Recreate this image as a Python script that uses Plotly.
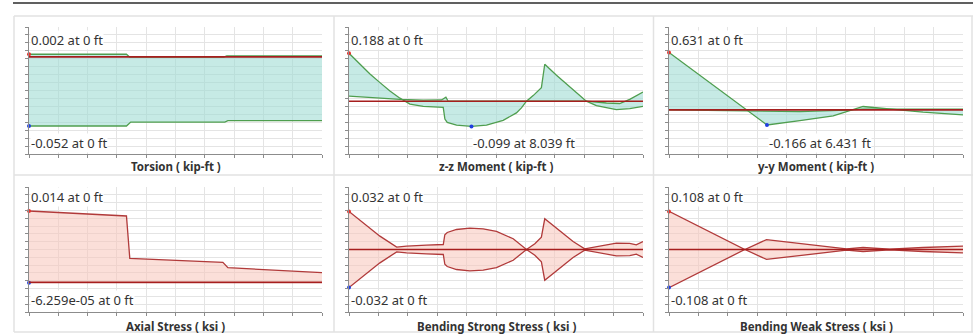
import numpy as np
import plotly.graph_objects as go

# ---------------- data ----------------
beam_length_ft = 19.3

titles = ["Torsion ( kip-ft )", "z-z Moment ( kip-ft )", "y-y Moment ( kip-ft )",
          "Axial Stress ( ksi )", "Bending Strong Stress ( ksi )", "Bending Weak Stress ( ksi )"]

max_labels = ["0.002 at 0 ft", "0.188 at 0 ft", "0.631 at 0 ft",
              "0.014 at 0 ft", "0.032 at 0 ft", "0.108 at 0 ft"]
min_labels = ["-0.052 at 0 ft", "-0.099 at 8.039 ft", "-0.166 at 6.431 ft",
              "-6.259e-05 at 0 ft", "-0.032 at 0 ft", "-0.108 at 0 ft"]
max_x = [0, 0, 0, 0, 0, 0]
max_y = [0.002, 0.188, 0.631, 0.014, 0.032, 0.108]
min_x = [0, 8.039, 6.431, 0, 0, 0]
min_y = [-0.052, -0.099, -0.166, -6.259e-05, -0.032, -0.108]

# Torsion
torsion_a_x = [0, 6.42, 6.64, 12.82, 13.03, 19.3]
torsion_a_y = [0.002, 0.002, -0.0002, -0.0002, 0.0008, 0.0008]
torsion_b_x = [0, 6.42, 6.70, 12.9, 13.1, 19.3]
torsion_b_y = [-0.052, -0.052, -0.049, -0.049, -0.048, -0.048]

# z-z Moment
mzz_a_x = [0, 0.721, 1.377, 2.033, 2.688, 3.344, 3.999, 4.874, 6.186, 6.295, 6.448, 7.060,
           8.039, 9.027, 10.12, 10.99, 11.32, 11.65, 12.09, 12.63, 12.85, 13.62, 14.49,
           15.58, 16.24, 17.55, 18.43, 19.3]
mzz_a_y = [0.188, 0.145, 0.107, 0.073, 0.040, 0.012, -0.011, -0.020, -0.024, -0.070, -0.083,
           -0.094, -0.099, -0.094, -0.075, -0.046, -0.026, 0.0, 0.022, 0.053, 0.145, 0.102,
           0.057, 0.0, -0.017, -0.033, -0.029, -0.020]
mzz_b_x = [0, 2.033, 3.344, 4.874, 6.076, 6.36, 6.51, 11.65, 15.58, 16.90, 17.77, 18.43, 19.3]
mzz_b_y = [0.020, 0.011, 0.007, 0.004, 0.005, 0.016, 0.0, 0.0, 0.0, -0.007, -0.009, 0.007, 0.036]

# y-y Moment
myy_a_x = [0, 5.093, 6.431, 8.59, 10.78, 12.74, 14.49, 16.68, 19.3]
myy_a_y = [0.631, 0.0, -0.166, -0.119, -0.067, 0.037, 0.007, -0.026, -0.056]
myy_b_x = [0, 5.09, 6.38, 8.59, 11.65, 12.74, 19.3]
myy_b_y = [0.0, -0.011, -0.019, -0.019, -0.004, 0.007, 0.007]

# Axial Stress
axial_a_x = [0, 6.42, 6.64, 12.77, 13.10, 19.3]
axial_a_y = [0.014, 0.01302, 0.00469, 0.00391, 0.00287, 0.00189]
axial_b_x = [0, 19.3]
axial_b_y = [-6.259e-05, -6.259e-05]

# Bending Strong Stress
strong_x = [0, 0.94, 2.03, 3.13, 3.78, 5.09, 6.19, 6.29, 6.45, 7.06, 7.93, 8.81, 9.68, 10.78,
            11.65, 12.20, 12.63, 12.85, 13.84, 14.71, 15.47, 16.24, 17.55, 18.43, 18.86, 19.3]
strong_a_y = [0.032, 0.0225, 0.0112, 0.0020, 0.0028, 0.0036, 0.0042, 0.0124, 0.0143, 0.0168,
              0.0180, 0.0174, 0.0152, 0.0090, 0.0, 0.0048, 0.0104, 0.0258, 0.0160, 0.0067,
              0.0006, 0.0025, 0.0053, 0.0051, 0.0039, 0.0067]
strong_b_y = [-0.032, -0.0225, -0.0112, -0.0020, -0.0028, -0.0036, -0.0042, -0.0124, -0.0143,
              -0.0168, -0.0180, -0.0174, -0.0152, -0.0090, 0.0, -0.0048, -0.0104, -0.0258,
              -0.0160, -0.0067, -0.0006, -0.0025, -0.0053, -0.0051, -0.0039, -0.0067]

# Bending Weak Stress
weak_x = [0, 4.98, 6.40, 8.59, 11.65, 12.74, 14.49, 16.68, 19.3]
weak_a_y = [0.108, 0.0, 0.0282, 0.0178, 0.0019, 0.0056, 0.0009, 0.0056, 0.0094]
weak_b_y = [-0.108, 0.0, -0.0282, -0.0178, -0.0019, -0.0056, -0.0009, -0.0056, -0.0094]

series = [
    (torsion_a_x, torsion_a_y, torsion_b_x, torsion_b_y),
    (mzz_a_x, mzz_a_y, mzz_b_x, mzz_b_y),
    (myy_a_x, myy_a_y, myy_b_x, myy_b_y),
    (axial_a_x, axial_a_y, axial_b_x, axial_b_y),
    (strong_x, strong_a_y, strong_x, strong_b_y),
    (weak_x, weak_a_y, weak_x, weak_b_y),
]

# ---------------- styles / layout ----------------
W, H = 973, 335
GREEN = "#4f9e4f"
TEAL_FILL = "rgba(160,220,212,0.6)"
RED_LINE = "#b13a3a"
PINK_FILL = "rgba(248,196,186,0.55)"
ZERO = "#a61e1e"
TEXT = "#333333"
FONT = "Noto Sans"

col_px = [(29, 322), (349, 643), (669, 963)]
row_px = [(27, 154), (187, 312)]
title_y_px = [166, 326.5]
pads = [(0.39, 0.38), (0.377, 0.36), (0.40, 0.35), (0.41, 0.335), (0.32, 0.32), (0.32, 0.32)]

fig = go.Figure()
layout = dict(width=W, height=H, margin=dict(l=0, r=0, t=0, b=0),
              paper_bgcolor="white", plot_bgcolor="white", showlegend=False,
              font=dict(family=FONT, color=TEXT))
annotations = []
shapes = []

for i in range(6):
    r, c = divmod(i, 3)
    n = "" if i == 0 else str(i + 1)
    xa, ya = "x" + n, "y" + n
    ax, ay, bx, by = series[i]
    stress = i >= 3
    lc = RED_LINE if stress else GREEN
    fc = PINK_FILL if stress else TEAL_FILL
    fig.add_trace(go.Scatter(x=ax, y=ay, mode="lines", line=dict(color=lc, width=1.3),
                             xaxis=xa, yaxis=ya, hoverinfo="skip"))
    fig.add_trace(go.Scatter(x=bx, y=by, mode="lines", line=dict(color=lc, width=1.3),
                             fill="tonexty", fillcolor=fc, xaxis=xa, yaxis=ya, hoverinfo="skip"))
    fig.add_trace(go.Scatter(x=[max_x[i]], y=[max_y[i]], mode="markers",
                             marker=dict(color="#e8302a", size=4), cliponaxis=False,
                             xaxis=xa, yaxis=ya, hoverinfo="skip"))
    fig.add_trace(go.Scatter(x=[min_x[i]], y=[min_y[i]], mode="markers",
                             marker=dict(color="#1f3fe0", size=4), cliponaxis=False,
                             xaxis=xa, yaxis=ya, hoverinfo="skip"))

    vmax, vmin = max_y[i], min_y[i]
    span = vmax - vmin
    lo = vmin - pads[i][0] * span
    hi = vmax + pads[i][1] * span
    x0p, x1p = col_px[c]
    y0p, y1p = row_px[r]
    common = dict(showticklabels=False, ticks="outside", ticklen=3, tickcolor="#8c8c8c",
                  showline=True, linecolor="#8c8c8c", linewidth=1, showgrid=True,
                  gridcolor="#e4e4e4", gridwidth=1, zeroline=False, fixedrange=True)
    layout["xaxis" + n] = dict(domain=[x0p / W, x1p / W], range=[0, beam_length_ft],
                               anchor=ya, tickmode="array",
                               tickvals=list(np.linspace(0, beam_length_ft, 11)), **common)
    layout["yaxis" + n] = dict(domain=[1 - y1p / H, 1 - y0p / H], range=[lo, hi],
                               anchor=xa, tickmode="array",
                               tickvals=list(np.linspace(lo, hi, 17)), **common)
    # zero line
    shapes.append(dict(type="line", xref=xa + " domain", yref=ya, x0=0, x1=1, y0=0, y1=0,
                       line=dict(color=ZERO, width=1.6), layer="above"))
    top_y = 0.90 if r == 0 else 0.923
    bot_y = 0.087 if r == 0 else 0.096
    annotations.append(dict(text=max_labels[i], xref=xa, yref=ya + " domain", x=max_x[i], y=top_y,
                            xanchor="left", yanchor="middle", xshift=1, showarrow=False,
                            bgcolor="white", borderpad=0, font=dict(size=13, color=TEXT)))
    annotations.append(dict(text=min_labels[i], xref=xa, yref=ya + " domain", x=min_x[i], y=bot_y,
                            xanchor="left", yanchor="middle", xshift=1, showarrow=False,
                            bgcolor="white", borderpad=0, font=dict(size=13, color=TEXT)))
    annotations.append(dict(text="<b>" + titles[i] + "</b>", xref=xa + " domain", yref="paper",
                            x=0.5, y=1 - title_y_px[r] / H, xanchor="center", yanchor="middle",
                            showarrow=False, font=dict(size=11.5, color=TEXT)))

# frame lines
shapes.append(dict(type="line", xref="paper", yref="paper", x0=13 / W, x1=1,
                   y0=1 - 3 / H, y1=1 - 3 / H, line=dict(color="#2b2b2b", width=1.6)))
for yp in [16, 175, 332]:
    shapes.append(dict(type="line", xref="paper", yref="paper", x0=14 / W, x1=1,
                       y0=1 - yp / H, y1=1 - yp / H, line=dict(color="#e2e2e2", width=1.5)))
for xp in [14, 334, 653.5, 972]:
    shapes.append(dict(type="line", xref="paper", yref="paper", x0=xp / W, x1=xp / W,
                       y0=1 - 16 / H, y1=1 - 332 / H, line=dict(color="#e2e2e2", width=1.5)))

layout["annotations"] = annotations
layout["shapes"] = shapes
fig.update_layout(**layout)
fig.write_html("out.html", config={"displayModeBar": False},
               post_script="document.body.style.margin='0px';document.body.style.overflow='hidden';")
